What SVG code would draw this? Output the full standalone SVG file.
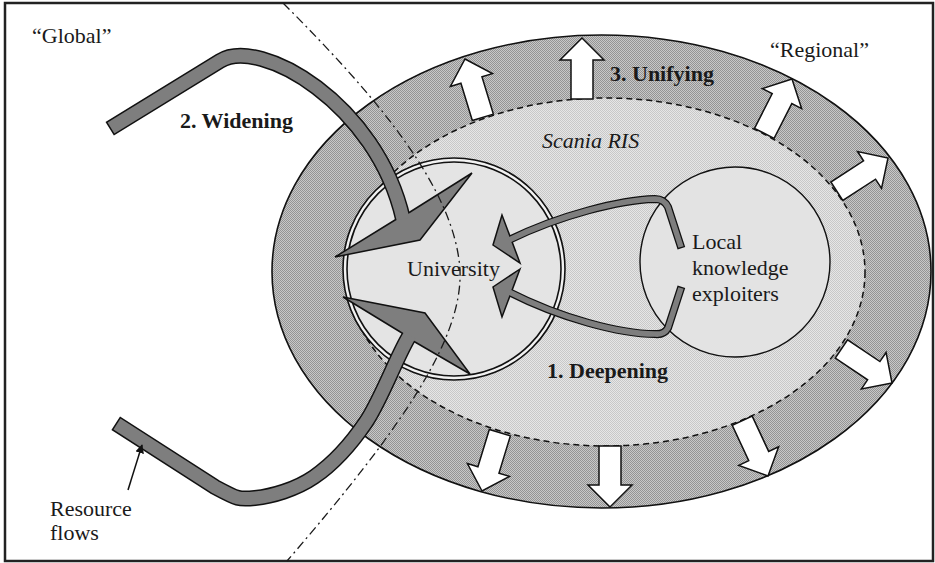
<svg xmlns="http://www.w3.org/2000/svg" width="935" height="563" viewBox="0 0 935 563">
<style>
.t{font-family:"Times New Roman",Tinos,"Liberation Serif","DejaVu Serif",serif;font-size:22px;fill:#1a1a1a}
.b{font-weight:bold}
.i{font-style:italic}
.wa{fill:#fff;stroke:#111;stroke-width:1.5;stroke-linejoin:miter}
.so{fill:none;stroke:#111;stroke-width:16;stroke-linejoin:round}
.si{fill:none;stroke:#7e7e7e;stroke-width:13;stroke-linejoin:round}
.sso{fill:none;stroke:#111;stroke-width:8;stroke-linejoin:round}
.ssi{fill:none;stroke:#7e7e7e;stroke-width:5.5;stroke-linejoin:round}
.hd{fill:#7e7e7e;stroke:#111;stroke-width:1.5;stroke-linejoin:miter}
</style>
<defs>
<pattern id="pOuter" width="2" height="2" patternUnits="userSpaceOnUse">
<rect width="2" height="2" fill="#c8c8c8"/><rect width="1" height="1" fill="#949494"/><rect x="1" y="1" width="1" height="1" fill="#949494"/>
</pattern>
<pattern id="pInner" width="2" height="2" patternUnits="userSpaceOnUse">
<rect width="2" height="2" fill="#e6e6e6"/><rect width="1" height="1" fill="#c8c8c8"/><rect x="1" y="1" width="1" height="1" fill="#c8c8c8"/>
</pattern>
<path id="wa" d="M0,0 L22,22 L11,22 L11,61 L-11,61 L-11,22 L-22,22 Z"/>
<marker id="ah" viewBox="0 0 10 10" refX="9" refY="5" markerWidth="9" markerHeight="9" markerUnits="userSpaceOnUse" orient="auto">
<path d="M0,0 L10,5 L0,10 Z" fill="#111"/>
</marker>
</defs>
<rect x="0" y="0" width="935" height="563" fill="#fff"/>
<rect x="5" y="3" width="928" height="558" fill="none" stroke="#222" stroke-width="2.5"/>

<g id="regional-ring">
<ellipse cx="601.5" cy="271.5" rx="329.5" ry="236.5" fill="url(#pOuter)" stroke="#111" stroke-width="1.6"/>
</g>
<g id="scania-ris">
<ellipse cx="606" cy="272" rx="259" ry="174" fill="url(#pInner)" stroke="#111" stroke-width="1.5" stroke-dasharray="6 4"/>
</g>

<g id="unifying-arrows">
<use href="#wa" class="wa" transform="translate(582,38)"/>
<use href="#wa" class="wa" transform="translate(465,59) rotate(-17)"/>
<use href="#wa" class="wa" transform="translate(792,79) rotate(27)"/>
<use href="#wa" class="wa" transform="translate(888,158) rotate(57)"/>
<use href="#wa" class="wa" transform="translate(892,383) rotate(124)"/>
<use href="#wa" class="wa" transform="translate(768,476) rotate(155)"/>
<use href="#wa" class="wa" transform="translate(610,507) rotate(180)"/>
<use href="#wa" class="wa" transform="translate(482,491) rotate(197)"/>
</g>

<g id="university">
<circle cx="454" cy="269" r="109" fill="#e4e4e4" stroke="#f2f2f2" stroke-width="4"/>
<circle cx="454" cy="269" r="111" fill="none" stroke="#111" stroke-width="1.6"/>
<circle cx="454" cy="269" r="107" fill="none" stroke="#111" stroke-width="1.6"/>
</g>

<g id="local-knowledge-exploiters">
<circle cx="735" cy="262" r="95" fill="#e3e3e3" stroke="#111" stroke-width="1.4"/>
</g>

<g id="connectors">
<g id="widening-flow">
<path class="so" d="M109.7,128.8 L220,61 C260,36 377,104 403,219"/>
<polygon class="hd" points="410,212 472,173 420,240 335,257 395,220"/>
<path class="si" d="M111,128 L220,61 C260,36 377,104 403,219"/>
</g>
<g id="deepening-flow-bottom">
<path class="so" d="M115.7,423.2 L215,487 C238,499.3 238.5,499.7 255,498 C271.5,496.3 295.5,489.7 314,477 C332.5,464.3 350.3,445.2 366,422 C381.7,398.8 399,351 410,335"/>
<polygon class="hd" points="402,333 343,297 425,313 470,374 415,342"/>
<path class="si" d="M117,424 L215,487 C238,499.3 238.5,499.7 255,498 C271.5,496.3 295.5,489.7 314,477 C332.5,464.3 350.3,445.2 366,422 C381.7,398.8 399,351 410,335"/>
</g>
<g id="local-flow-upper">
<path class="sso" d="M681.4,248.2 L668,207 Q664,199 655,199 C620,200 560,215 509,240"/>
<polygon class="hd" points="502,215 493,245 520,263"/>
<path class="ssi" d="M681,247 L668,207 Q664,199 655,199 C620,200 560,215 509,240"/>
</g>
<g id="local-flow-lower">
<path class="sso" d="M681.4,286.8 L668,328 Q664,335 655,334 C620,334 560,318 509,292"/>
<polygon class="hd" points="520,269 493,287 502,317"/>
<path class="ssi" d="M681,288 L668,328 Q664,335 655,334 C620,334 560,318 509,292"/>
</g>
<line id="resource-pointer" x1="128" y1="490" x2="142" y2="445" stroke="#111" stroke-width="1.5" marker-end="url(#ah)"/>
</g>

<g id="boundary">
<path d="M283,3 C380,100 455,190 460,270 C463,340 400,430 287,561" fill="none" stroke="#1a1a1a" stroke-width="1.3" stroke-dasharray="9 4 2 4"/>
</g>

<g id="labels">
<text class="t" x="32" y="43">“Global”</text>
<text class="t" x="770" y="57">“Regional”</text>
<text class="t b" x="180" y="128">2. Widening</text>
<text class="t b" x="610" y="81">3. Unifying</text>
<text class="t i" x="542" y="148">Scania RIS</text>
<text class="t" x="407" y="276">University</text>
<text class="t" x="692" y="249">Local</text>
<text class="t" x="692" y="275">knowledge</text>
<text class="t" x="692" y="301">exploiters</text>
<text class="t b" x="547" y="378">1. Deepening</text>
<text class="t" x="50" y="516">Resource</text>
<text class="t" x="50" y="540">flows</text>
</g>
</svg>
